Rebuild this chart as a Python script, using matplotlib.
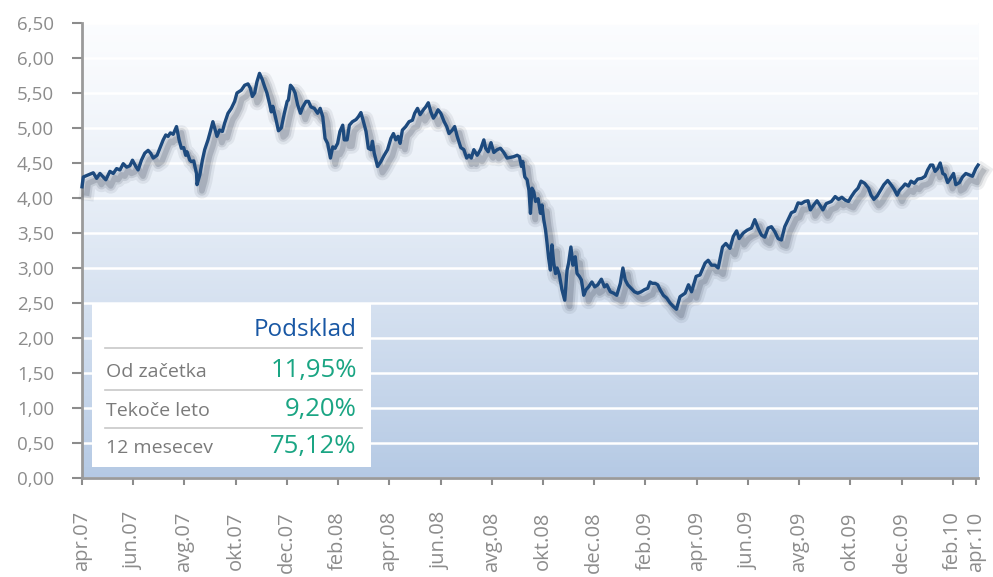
import numpy as np
import matplotlib.pyplot as plt
from matplotlib import patheffects as pe
from matplotlib.patches import Rectangle

plt.rcParams['font.family'] = ['Open Sans', 'DejaVu Sans']

# mesec od apr.07 / vrednost enote
months = [0.00, 0.05, 0.25, 0.44, 0.57, 0.70, 0.83, 0.93, 1.09, 1.22, 1.35, 1.48, 1.61, 1.74, 1.87,
          1.97, 2.10, 2.19, 2.32, 2.45, 2.58, 2.68, 2.78, 2.93, 3.04, 3.17, 3.27, 3.36, 3.45, 3.56,
          3.69, 3.79, 3.88, 3.97, 4.05, 4.10, 4.21, 4.27, 4.36, 4.47, 4.49, 4.60, 4.70, 4.79, 4.92,
          5.01, 5.11, 5.18, 5.27, 5.37, 5.48, 5.57, 5.70, 5.83, 5.96, 6.05, 6.22, 6.35, 6.48, 6.57,
          6.65, 6.74, 6.83, 6.93, 7.04, 7.13, 7.22, 7.32, 7.39, 7.45, 7.55, 7.67, 7.78, 7.90, 8.01,
          8.06, 8.14, 8.23, 8.32, 8.42, 8.53, 8.62, 8.75, 8.84, 8.94, 9.07, 9.20, 9.30, 9.40, 9.49,
          9.59, 9.70, 9.79, 9.88, 9.98, 10.07, 10.18, 10.24, 10.35, 10.44, 10.56, 10.70, 10.79, 10.89,
          10.99, 11.09, 11.18, 11.28, 11.34, 11.41, 11.54, 11.67, 11.80, 11.93, 12.06, 12.16, 12.25,
          12.34, 12.42, 12.51, 12.64, 12.77, 12.90, 12.99, 13.10, 13.20, 13.33, 13.42, 13.52, 13.62,
          13.72, 13.81, 13.90, 14.01, 14.14, 14.24, 14.33, 14.46, 14.55, 14.65, 14.79, 14.91, 15.02,
          15.11, 15.20, 15.30, 15.43, 15.56, 15.69, 15.76, 15.86, 15.97, 16.08, 16.21, 16.34, 16.47,
          16.60, 16.73, 16.86, 16.99, 17.08, 17.16, 17.21, 17.29, 17.38, 17.45, 17.51, 17.57, 17.64,
          17.71, 17.81, 17.90, 17.96, 18.03, 18.10, 18.16, 18.22, 18.29, 18.35, 18.42, 18.49, 18.55,
          18.64, 18.74, 18.85, 18.94, 19.00, 19.09, 19.17, 19.26, 19.33, 19.42, 19.50, 19.59, 19.68,
          19.78, 19.91, 20.02, 20.14, 20.28, 20.40, 20.49, 20.63, 20.76, 20.88, 21.02, 21.12, 21.21,
          21.31, 21.44, 21.57, 21.70, 21.83, 21.96, 22.09, 22.18, 22.27, 22.38, 22.48, 22.57, 22.70,
          22.83, 22.96, 23.09, 23.21, 23.35, 23.55, 23.68, 23.80, 23.98, 24.13, 24.33, 24.45, 24.58,
          24.72, 24.84, 25.01, 25.14, 25.30, 25.43, 25.56, 25.66, 25.82, 25.97, 26.14, 26.27, 26.40,
          26.53, 26.66, 26.79, 26.92, 27.05, 27.18, 27.31, 27.44, 27.57, 27.70, 27.83, 27.96, 28.09,
          28.22, 28.35, 28.44, 28.57, 28.70, 28.93, 29.06, 29.26, 29.41, 29.54, 29.67, 29.80, 29.93,
          30.04, 30.17, 30.30, 30.42, 30.56, 30.71, 30.81, 30.92, 31.05, 31.18, 31.31, 31.46, 31.59,
          31.72, 31.83, 31.92, 32.05, 32.14, 32.27, 32.37, 32.50, 32.63, 32.79, 32.92, 33.02, 33.13,
          33.22, 33.31, 33.41, 33.51, 33.61, 33.70, 33.80, 33.91, 34.03, 34.12, 34.26, 34.38, 34.51,
          34.64, 34.77, 34.90, 34.99]
values = [4.16, 4.30, 4.33, 4.36, 4.28, 4.35, 4.30, 4.26, 4.38, 4.35, 4.42, 4.40, 4.49, 4.44, 4.46,
          4.54, 4.45, 4.40, 4.54, 4.64, 4.68, 4.64, 4.57, 4.61, 4.71, 4.83, 4.90, 4.88, 4.93, 4.91,
          5.02, 4.83, 4.71, 4.72, 4.61, 4.66, 4.54, 4.52, 4.53, 4.35, 4.19, 4.33, 4.54, 4.69, 4.83,
          4.95, 5.09, 5.00, 4.88, 4.97, 4.95, 5.07, 5.21, 5.28, 5.38, 5.50, 5.54, 5.61, 5.63, 5.57,
          5.45, 5.50, 5.66, 5.78, 5.69, 5.59, 5.50, 5.35, 5.23, 5.31, 5.16, 4.96, 5.00, 5.21, 5.38,
          5.40, 5.61, 5.57, 5.50, 5.33, 5.21, 5.30, 5.38, 5.38, 5.30, 5.28, 5.21, 5.28, 5.16, 4.85,
          4.78, 4.57, 4.73, 4.71, 4.78, 4.95, 5.04, 4.83, 4.83, 5.04, 5.09, 5.12, 5.16, 5.22,
          5.09, 4.95, 4.71, 4.69, 4.81, 4.64, 4.45, 4.52, 4.61, 4.69, 4.85, 4.92, 4.83,
          4.88, 4.78, 4.97, 5.02, 5.09, 5.11, 5.21, 5.28, 5.19, 5.26, 5.30, 5.36, 5.23,
          5.14, 5.19, 5.26, 5.21, 5.09, 5.02, 4.92, 4.97, 5.02, 4.88, 4.72, 4.69, 4.57,
          4.61, 4.57, 4.69, 4.61, 4.69, 4.83, 4.71, 4.66, 4.79, 4.65, 4.69, 4.71, 4.65,
          4.57, 4.58, 4.59, 4.61, 4.59, 4.45, 4.52, 4.30, 4.26, 4.11, 3.78, 4.14, 4.09,
          3.95, 3.99, 3.78, 3.90, 3.69, 3.54, 3.35, 3.14, 2.97, 3.33, 3.07, 2.92, 3.00,
          2.90, 2.69, 2.54, 2.97, 3.07, 3.30, 3.04, 3.16, 2.92, 2.88, 2.83, 2.61, 2.69,
          2.73, 2.80, 2.73, 2.76, 2.84, 2.73, 2.76, 2.66, 2.64, 2.61, 2.78, 3.00, 2.83,
          2.76, 2.71, 2.66, 2.64, 2.66, 2.69, 2.71, 2.80, 2.78, 2.78, 2.76, 2.69, 2.61,
          2.57, 2.50, 2.45, 2.41, 2.59, 2.64, 2.76, 2.66, 2.88, 2.90, 3.07, 3.11, 3.04,
          3.04, 3.00, 3.30, 3.35, 3.28, 3.45, 3.53, 3.42, 3.50, 3.54, 3.57, 3.69, 3.57,
          3.47, 3.44, 3.57, 3.59, 3.52, 3.42, 3.40, 3.59, 3.69, 3.79, 3.81, 3.93, 3.92,
          3.95, 3.96, 3.83, 3.90, 3.96, 3.83, 3.92, 3.95, 4.02, 3.98, 4.01, 3.97, 3.95,
          4.02, 4.09, 4.14, 4.24, 4.21, 4.14, 4.04, 3.98, 4.03, 4.11, 4.19, 4.25, 4.19,
          4.12, 4.04, 4.11, 4.16, 4.20, 4.17, 4.24, 4.21, 4.27, 4.28, 4.31, 4.40, 4.47,
          4.47, 4.38, 4.42, 4.50, 4.35, 4.33, 4.22, 4.28, 4.35, 4.19, 4.22, 4.30, 4.35,
          4.33, 4.31, 4.42, 4.47]

tick_pos = [0, 2, 4, 6, 8, 10, 12, 14, 16, 18, 20, 22, 24, 26, 28, 30, 32, 34, 34.9]
tick_labels = ['apr.07', 'jun.07', 'avg.07', 'okt.07', 'dec.07', 'feb.08', 'apr.08', 'jun.08',
               'avg.08', 'okt.08', 'dec.08', 'feb.09', 'apr.09', 'jun.09', 'avg.09', 'okt.09',
               'dec.09', 'feb.10', 'apr.10']

header = 'Podsklad'
row_labels = ['Od začetka', 'Tekoče leto', '12 mesecev']
row_values = ['11,95%', '9,20%', '75,12%']

grey = '#8c8c8c'

fig = plt.figure(figsize=(9.93, 5.77), dpi=100)
ax = fig.add_axes([0.0826, 0.1716, 0.9024, 0.7886])
ax.set_xlim(0, 34.99)
ax.set_ylim(0, 6.5)

# ozadje - prelivanje
grad = np.linspace(0, 1, 256).reshape(-1, 1) ** 1.3
top_c = np.array([0.985, 0.99, 0.997])
bot_c = np.array([0.71, 0.79, 0.895])
img = top_c + (bot_c - top_c) * grad[:, :, None]
ax.imshow(img, extent=[0, 34.99, 0, 6.5], aspect='auto', origin='upper', zorder=-2)

ax.set_yticks(np.arange(0, 6.51, 0.5))
ax.set_yticklabels([f'{v:.2f}'.replace('.', ',') for v in np.arange(0, 6.51, 0.5)])
ax.yaxis.grid(True, color='white', linewidth=1.8)
ax.set_axisbelow(True)
ax.set_xticks(tick_pos)
ax.set_xticklabels(tick_labels, rotation=90, va='top')

ax.tick_params(axis='y', colors=grey, labelsize=13.5, length=7, width=1.5, pad=13)
ax.tick_params(axis='x', colors=grey, labelsize=14.5, length=5, width=1.5, pad=19)
for s in ['top', 'right']:
    ax.spines[s].set_visible(False)
for s in ['left', 'bottom']:
    ax.spines[s].set_color('#9a9a9a')
    ax.spines[s].set_linewidth(2)

shadow = [pe.SimpleLineShadow(offset=(3.5, -4.5), shadow_color='#2a3447', alpha=0.08, linewidth=11),
          pe.SimpleLineShadow(offset=(3.5, -4.5), shadow_color='#2a3447', alpha=0.12, linewidth=7),
          pe.SimpleLineShadow(offset=(3.5, -4.5), shadow_color='#2a3447', alpha=0.18, linewidth=4),
          pe.Normal()]
ax.plot(months, values, color='#1d4a7e', linewidth=2.4, solid_joinstyle='round',
        path_effects=shadow, zorder=3, clip_on=False)

# tabela
ax.add_patch(Rectangle((0.011, 0.025), 0.312, 0.359, transform=ax.transAxes,
                       facecolor='white', edgecolor='none', zorder=4))
ax.text(0.3066, 0.3127, header, transform=ax.transAxes, ha='right', va='baseline',
        fontsize=17.5, color='#1857a4', zorder=5)
row_base = [0.222, 0.1363, 0.0549]
for y, lab, val in zip(row_base, row_labels, row_values):
    ax.text(0.0268, y, lab, transform=ax.transAxes, ha='left', va='baseline',
            fontsize=14, color='#7a7a7a', zorder=5)
    ax.text(0.3066, y, val, transform=ax.transAxes, ha='right', va='baseline',
            fontsize=18.5, color='#1aa583', zorder=5)
for y in [0.285, 0.1934, 0.1092]:
    ax.plot([0.0257, 0.3125], [y, y], transform=ax.transAxes, color='#c8c8c8',
            linewidth=1.2, zorder=5)

fig.savefig('out.png', dpi=100)
